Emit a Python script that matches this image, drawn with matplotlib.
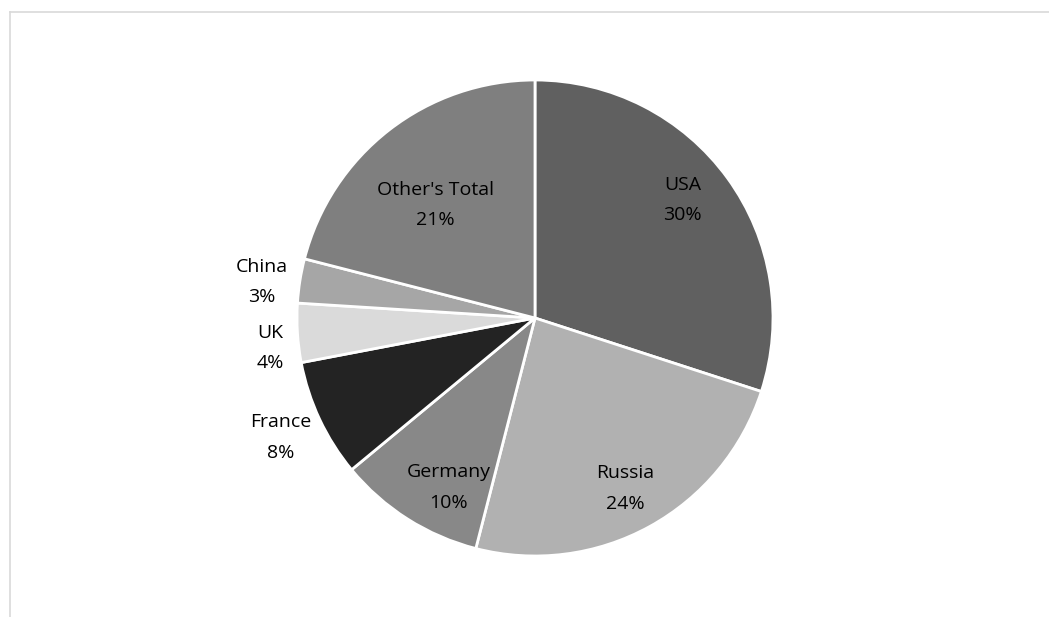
import matplotlib.pyplot as plt
import numpy as np
from matplotlib.lines import Line2D

plt.rcParams["font.family"] = ["Open Sans", "DejaVu Sans"]

countries = ["USA", "Russia", "Germany", "France", "UK", "China", "Other's Total"]
shares = [30, 24, 10, 8, 4, 3, 21]
colors = ["#606060", "#b1b1b1", "#888888", "#232323", "#dadada", "#a6a6a6", "#7f7f7f"]
# label placement (radius fraction, angle nudge in degrees), Excel "best fit" style
label_dist = [0.795, 0.81, 0.80, 1.18, 1.12, 1.156, 0.634]
label_nudge = [2.6, -0.9, 5.3, 0.0, 2.9, 1.5, 3.7]

fig = plt.figure(figsize=(10.49, 6.17), dpi=100)
W, H = 1049, 617
cx, cy, r = 535, H - 318, 238
ax = fig.add_axes([(cx - r) / W, (cy - r) / H, 2 * r / W, 2 * r / H])

wedges, _ = ax.pie(shares, colors=colors, startangle=90, counterclock=False,
                   radius=1, wedgeprops=dict(edgecolor="white", linewidth=2))
ax.set_xlim(-1, 1)
ax.set_ylim(-1, 1)
ax.axis("off")

for w, name, val, d, nudge in zip(wedges, countries, shares, label_dist, label_nudge):
    ang = np.deg2rad((w.theta1 + w.theta2) / 2 + nudge)
    ax.text(d * np.cos(ang), d * np.sin(ang), f"{name}\n{val}%", ha="center", va="center",
            fontsize=14, color="#000000", linespacing=1.9, clip_on=False)

# light chart-area frame
fig.add_artist(Line2D([9.5 / W, 9.5 / W], [0, 1 - 11.5 / H], transform=fig.transFigure,
                      color="#d9d9d9", lw=1.2))
fig.add_artist(Line2D([9.5 / W, 1], [1 - 11.5 / H, 1 - 11.5 / H], transform=fig.transFigure,
                      color="#d9d9d9", lw=1.2))

fig.savefig("out.png", dpi=100)
